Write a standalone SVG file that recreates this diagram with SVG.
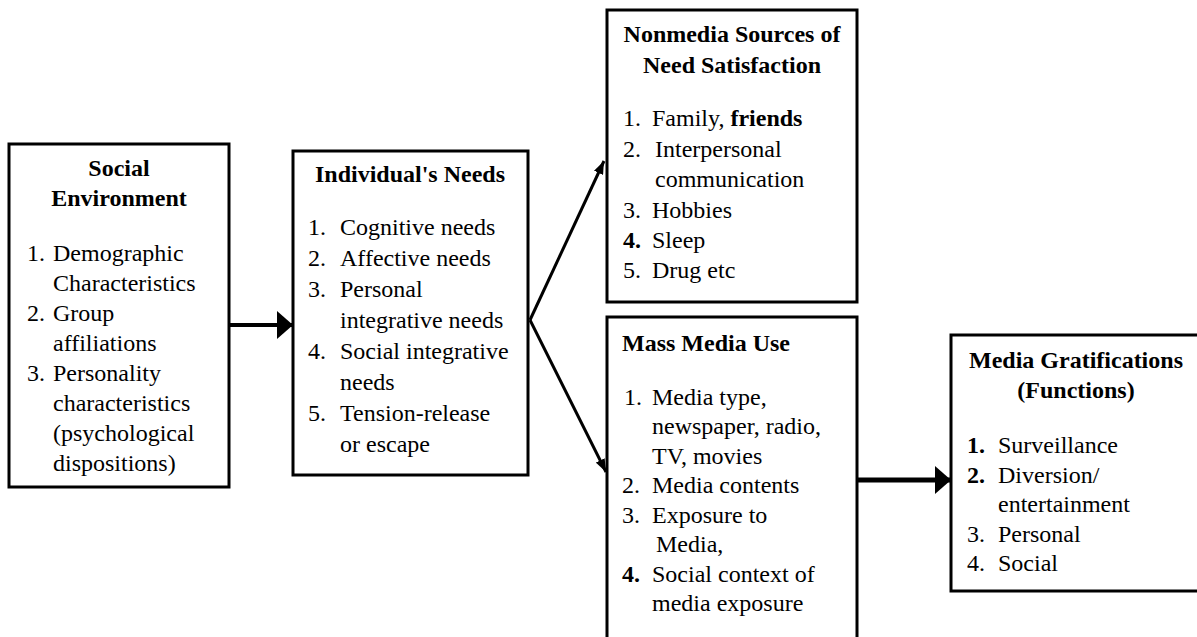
<svg xmlns="http://www.w3.org/2000/svg" width="1197" height="637" viewBox="0 0 1197 637">
<style>
  text { font-family: "Liberation Serif", "Times New Roman", serif; font-size: 24px; fill: #000; }
  .t { font-weight: bold; }
  .c { text-anchor: middle; }
  .b { font-weight: bold; }
  rect.box { fill: #fff; stroke: #000; stroke-width: 3; }
  .con line { stroke: #000; }
</style>
<defs>
  <marker id="big" viewBox="0 0 16 28" refX="16" refY="14" markerWidth="16" markerHeight="28" markerUnits="userSpaceOnUse" orient="auto">
    <path d="M0,0 L16,14 L0,28 Z" fill="#000"/>
  </marker>
  <marker id="small" viewBox="0 0 13 10" refX="13" refY="5" markerWidth="13" markerHeight="10" markerUnits="userSpaceOnUse" orient="auto">
    <path d="M0,0 L13,5 L0,10 Z" fill="#000"/>
  </marker>
</defs>
<rect width="1197" height="637" fill="#fff"/>

<g id="social-environment">
  <rect class="box" x="9" y="144" width="220" height="343"/>
  <text class="t c" x="119" y="176">Social</text>
  <text class="t c" x="119" y="206">Environment</text>
  <text x="27" y="261">1.</text><text x="53" y="261">Demographic</text>
  <text x="53" y="291">Characteristics</text>
  <text x="27" y="321">2.</text><text x="53" y="321">Group</text>
  <text x="53" y="351">affiliations</text>
  <text x="27" y="381">3.</text><text x="53" y="381">Personality</text>
  <text x="53" y="411">characteristics</text>
  <text x="53" y="441">(psychological</text>
  <text x="53" y="471">dispositions)</text>
</g>

<g id="individuals-needs">
  <rect class="box" x="293" y="151" width="235" height="324"/>
  <text class="t c" x="410" y="182">Individual's Needs</text>
  <text x="308" y="235">1.</text><text x="340" y="235">Cognitive needs</text>
  <text x="308" y="266">2.</text><text x="340" y="266">Affective needs</text>
  <text x="308" y="297">3.</text><text x="340" y="297">Personal</text>
  <text x="340" y="328">integrative needs</text>
  <text x="308" y="359">4.</text><text x="340" y="359">Social integrative</text>
  <text x="340" y="390">needs</text>
  <text x="308" y="421">5.</text><text x="340" y="421">Tension-release</text>
  <text x="340" y="452">or escape</text>
</g>

<g id="nonmedia-sources">
  <rect class="box" x="607" y="10" width="250" height="292"/>
  <text class="t c" x="732" y="42">Nonmedia Sources of</text>
  <text class="t c" x="732" y="73">Need Satisfaction</text>
  <text x="623" y="126">1.</text><text x="652" y="126">Family, <tspan class="b">friends</tspan></text>
  <text x="623" y="157">2.</text><text x="655" y="157">Interpersonal</text>
  <text x="655" y="187">communication</text>
  <text x="623" y="218">3.</text><text x="652" y="218">Hobbies</text>
  <text class="b" x="623" y="248">4.</text><text x="652" y="248">Sleep</text>
  <text x="623" y="278">5.</text><text x="652" y="278">Drug etc</text>
</g>

<g id="mass-media-use">
  <rect class="box" x="607" y="317" width="250" height="340"/>
  <text class="t" x="622" y="351">Mass Media Use</text>
  <text x="624" y="405">1.</text><text x="652" y="405">Media type,</text>
  <text x="652" y="434">newspaper, radio,</text>
  <text x="652" y="464">TV, movies</text>
  <text x="622" y="493">2.</text><text x="652" y="493">Media contents</text>
  <text x="622" y="523">3.</text><text x="652" y="523">Exposure to</text>
  <text x="656" y="552">Media,</text>
  <text class="b" x="622" y="582">4.</text><text x="652" y="582">Social context of</text>
  <text x="652" y="611">media exposure</text>
</g>

<g id="media-gratifications">
  <rect class="box" x="951" y="335" width="252" height="256"/>
  <text class="t c" x="1076" y="368">Media Gratifications</text>
  <text class="t c" x="1076" y="398">(Functions)</text>
  <text class="b" x="967" y="453">1.</text><text x="998" y="453">Surveillance</text>
  <text class="b" x="967" y="483">2.</text><text x="998" y="483">Diversion/</text>
  <text x="998" y="512">entertainment</text>
  <text x="967" y="542">3.</text><text x="998" y="542">Personal</text>
  <text x="967" y="571">4.</text><text x="998" y="571">Social</text>
</g>

<g id="connectors" class="con">
  <line x1="229" y1="325" x2="293" y2="325" stroke-width="4" marker-end="url(#big)"/>
  <line x1="530" y1="320" x2="604" y2="161" stroke-width="3" marker-end="url(#small)"/>
  <line x1="530" y1="320" x2="606" y2="472" stroke-width="3" marker-end="url(#small)"/>
  <line x1="857" y1="480" x2="951" y2="480" stroke-width="5" marker-end="url(#big)"/>
</g>
</svg>
